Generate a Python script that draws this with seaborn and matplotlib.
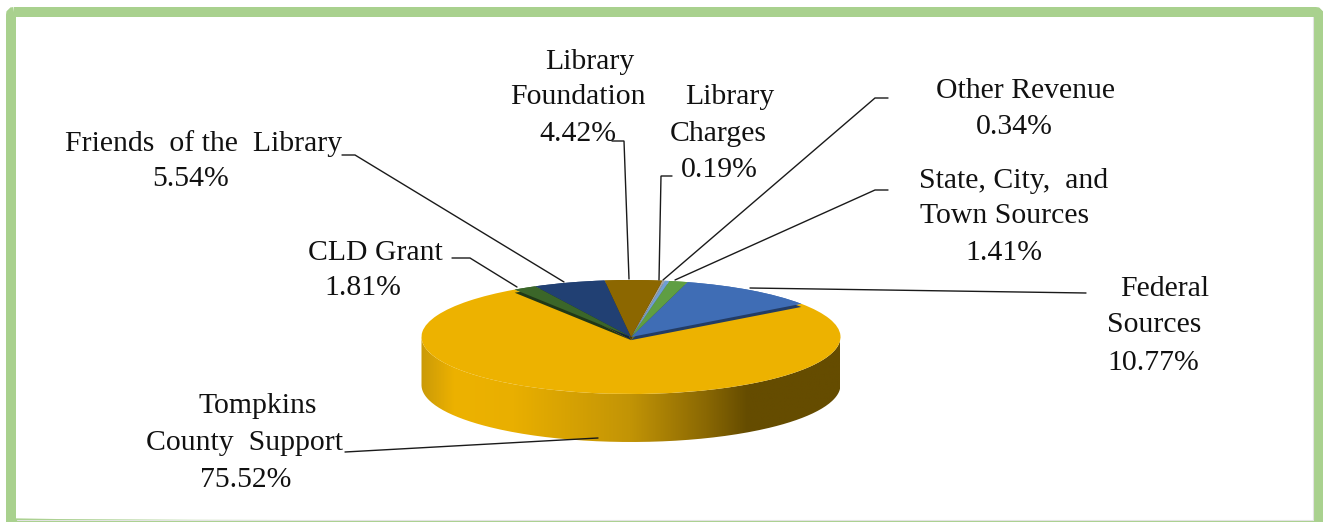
import numpy as np
import seaborn as sns
import matplotlib.pyplot as plt
from matplotlib.colors import LinearSegmentedColormap, to_rgb
from matplotlib.patches import FancyBboxPatch, PathPatch
from matplotlib.path import Path

# funding shares, counter clockwise from the right hand side of the pie
sources = ['Federal Sources', 'State, City, and Town Sources', 'Other Revenue', 'Library Charges',
           'Library Foundation', 'Friends of the Library', 'CLD Grant', 'Tompkins County Support']
shares = [10.77, 1.41, 0.34, 0.19, 4.42, 5.54, 1.81, 75.52]
colors = ['#3F6DB5', '#5F9E43', '#6F9FD2', '#A5A5A5', '#8C6700', '#214073', '#3B6629', '#EDB200']

label_lines = ['Friends  of the  Library', '5.54%', 'CLD Grant', '1.81%',
               'Library', 'Foundation', '4.42%', 'Library', 'Charges', '0.19%',
               'Other Revenue', '0.34%', 'State, City,  and', 'Town Sources', '1.41%',
               'Federal', 'Sources', '10.77%', 'Tompkins', 'County  Support', '75.52%']
label_x = [204, 191, 375, 363, 590, 578, 578, 730, 718, 719, 1026, 1014, 1014, 1005, 1004, 1165, 1154, 1153, 258, 245, 246]
label_y = [141, 176, 250, 285, 59, 94, 131, 94, 131, 167, 88, 124, 178, 213, 250, 286, 322, 360, 403, 440, 477]

leaders = [[(342, 155), (355, 155), (564, 282)],
           [(452, 258), (470, 258), (517, 287)],
           [(612, 141), (624, 141), (629, 279)],
           [(672, 176), (661, 176), (659, 280)],
           [(888, 98), (875, 98), (663, 280)],
           [(888, 190), (875, 190), (675, 280)],
           [(1086, 293), (750, 288)],
           [(345, 452), (598, 438)]]

W, H = 1323, 522
cx, cy, rx, ry, depth = 631, 337, 209.5, 57, 48

sns.set_theme(style="white")
plt.rcParams['font.family'] = ['Liberation Serif']
fig = plt.figure(figsize=(W / 100, H / 100), dpi=100, facecolor='white')

# pie axes in pie units, squashed so the circle becomes the ellipse
ax = fig.add_axes([0, 0, 1, 1])
xlim = (-cx / rx, (W - cx) / rx)
ylim = ((cy - H) / ry, cy / ry)

t = np.radians(np.linspace(180, 360, 200))
d = depth / ry
wall = np.r_[np.c_[np.cos(t), np.sin(t)], np.c_[np.cos(t[::-1]), np.sin(t[::-1]) - d]]
wall_cmap = LinearSegmentedColormap.from_list('wall', [(0, '#CB9A08'), (0.08, '#EDB200'), (0.22, '#E9AF00'),
                                                       (0.5, '#C29406'), (0.68, '#8A6803'), (0.78, '#654C00'), (1, '#654C00')])
img = ax.imshow(np.linspace(0, 1, 256)[None, :], extent=(-1, 1, -1 - d, 1), aspect='auto', cmap=wall_cmap, zorder=0)
img.set_clip_path(PathPatch(Path(wall), transform=ax.transData))

# gold body, then a dark lip under the small slices, then the small slices
flat = {'linewidth': 0, 'edgecolor': 'none'}
ax.pie(shares, colors=colors, startangle=35.6, radius=1, wedgeprops=flat)
lips = [tuple(np.array(to_rgb(c)) * 0.55) for c in colors]
lip, _ = ax.pie(shares, colors=lips, startangle=35.6, center=(0, -0.055), radius=1, wedgeprops=flat)
lip[-1].set_visible(False)
top, _ = ax.pie(shares, colors=colors, startangle=35.6, radius=1, wedgeprops=flat)
top[-1].set_visible(False)
ax.set_aspect('auto')
ax.set_xlim(xlim)
ax.set_ylim(ylim)
ax.axis('off')

# overlay in image pixels for frame, leaders and labels
ov = fig.add_axes([0, 0, 1, 1], facecolor='none')
ov.set_xlim(0, W)
ov.set_ylim(H, 0)
ov.axis('off')
ov.add_patch(FancyBboxPatch((11, 12), 1307.5, 514, boxstyle='round,pad=0,rounding_size=3',
                            fill=False, ec='#A9D18E', lw=7.2, clip_on=True))
ov.plot([16.5, 1313, 1313], [519.5, 519.5, 17], color='#E3E3E3', lw=0.8)

for pts in leaders:
    ov.plot(*zip(*pts), color='#1A1A1A', lw=1.0, solid_joinstyle='miter')

for text, x, y in zip(label_lines, label_x, label_y):
    ov.text(x, y + 3, text, ha='center', va='center', fontsize=21.4, color='#111111')

fig.savefig('out.png', dpi=100)
